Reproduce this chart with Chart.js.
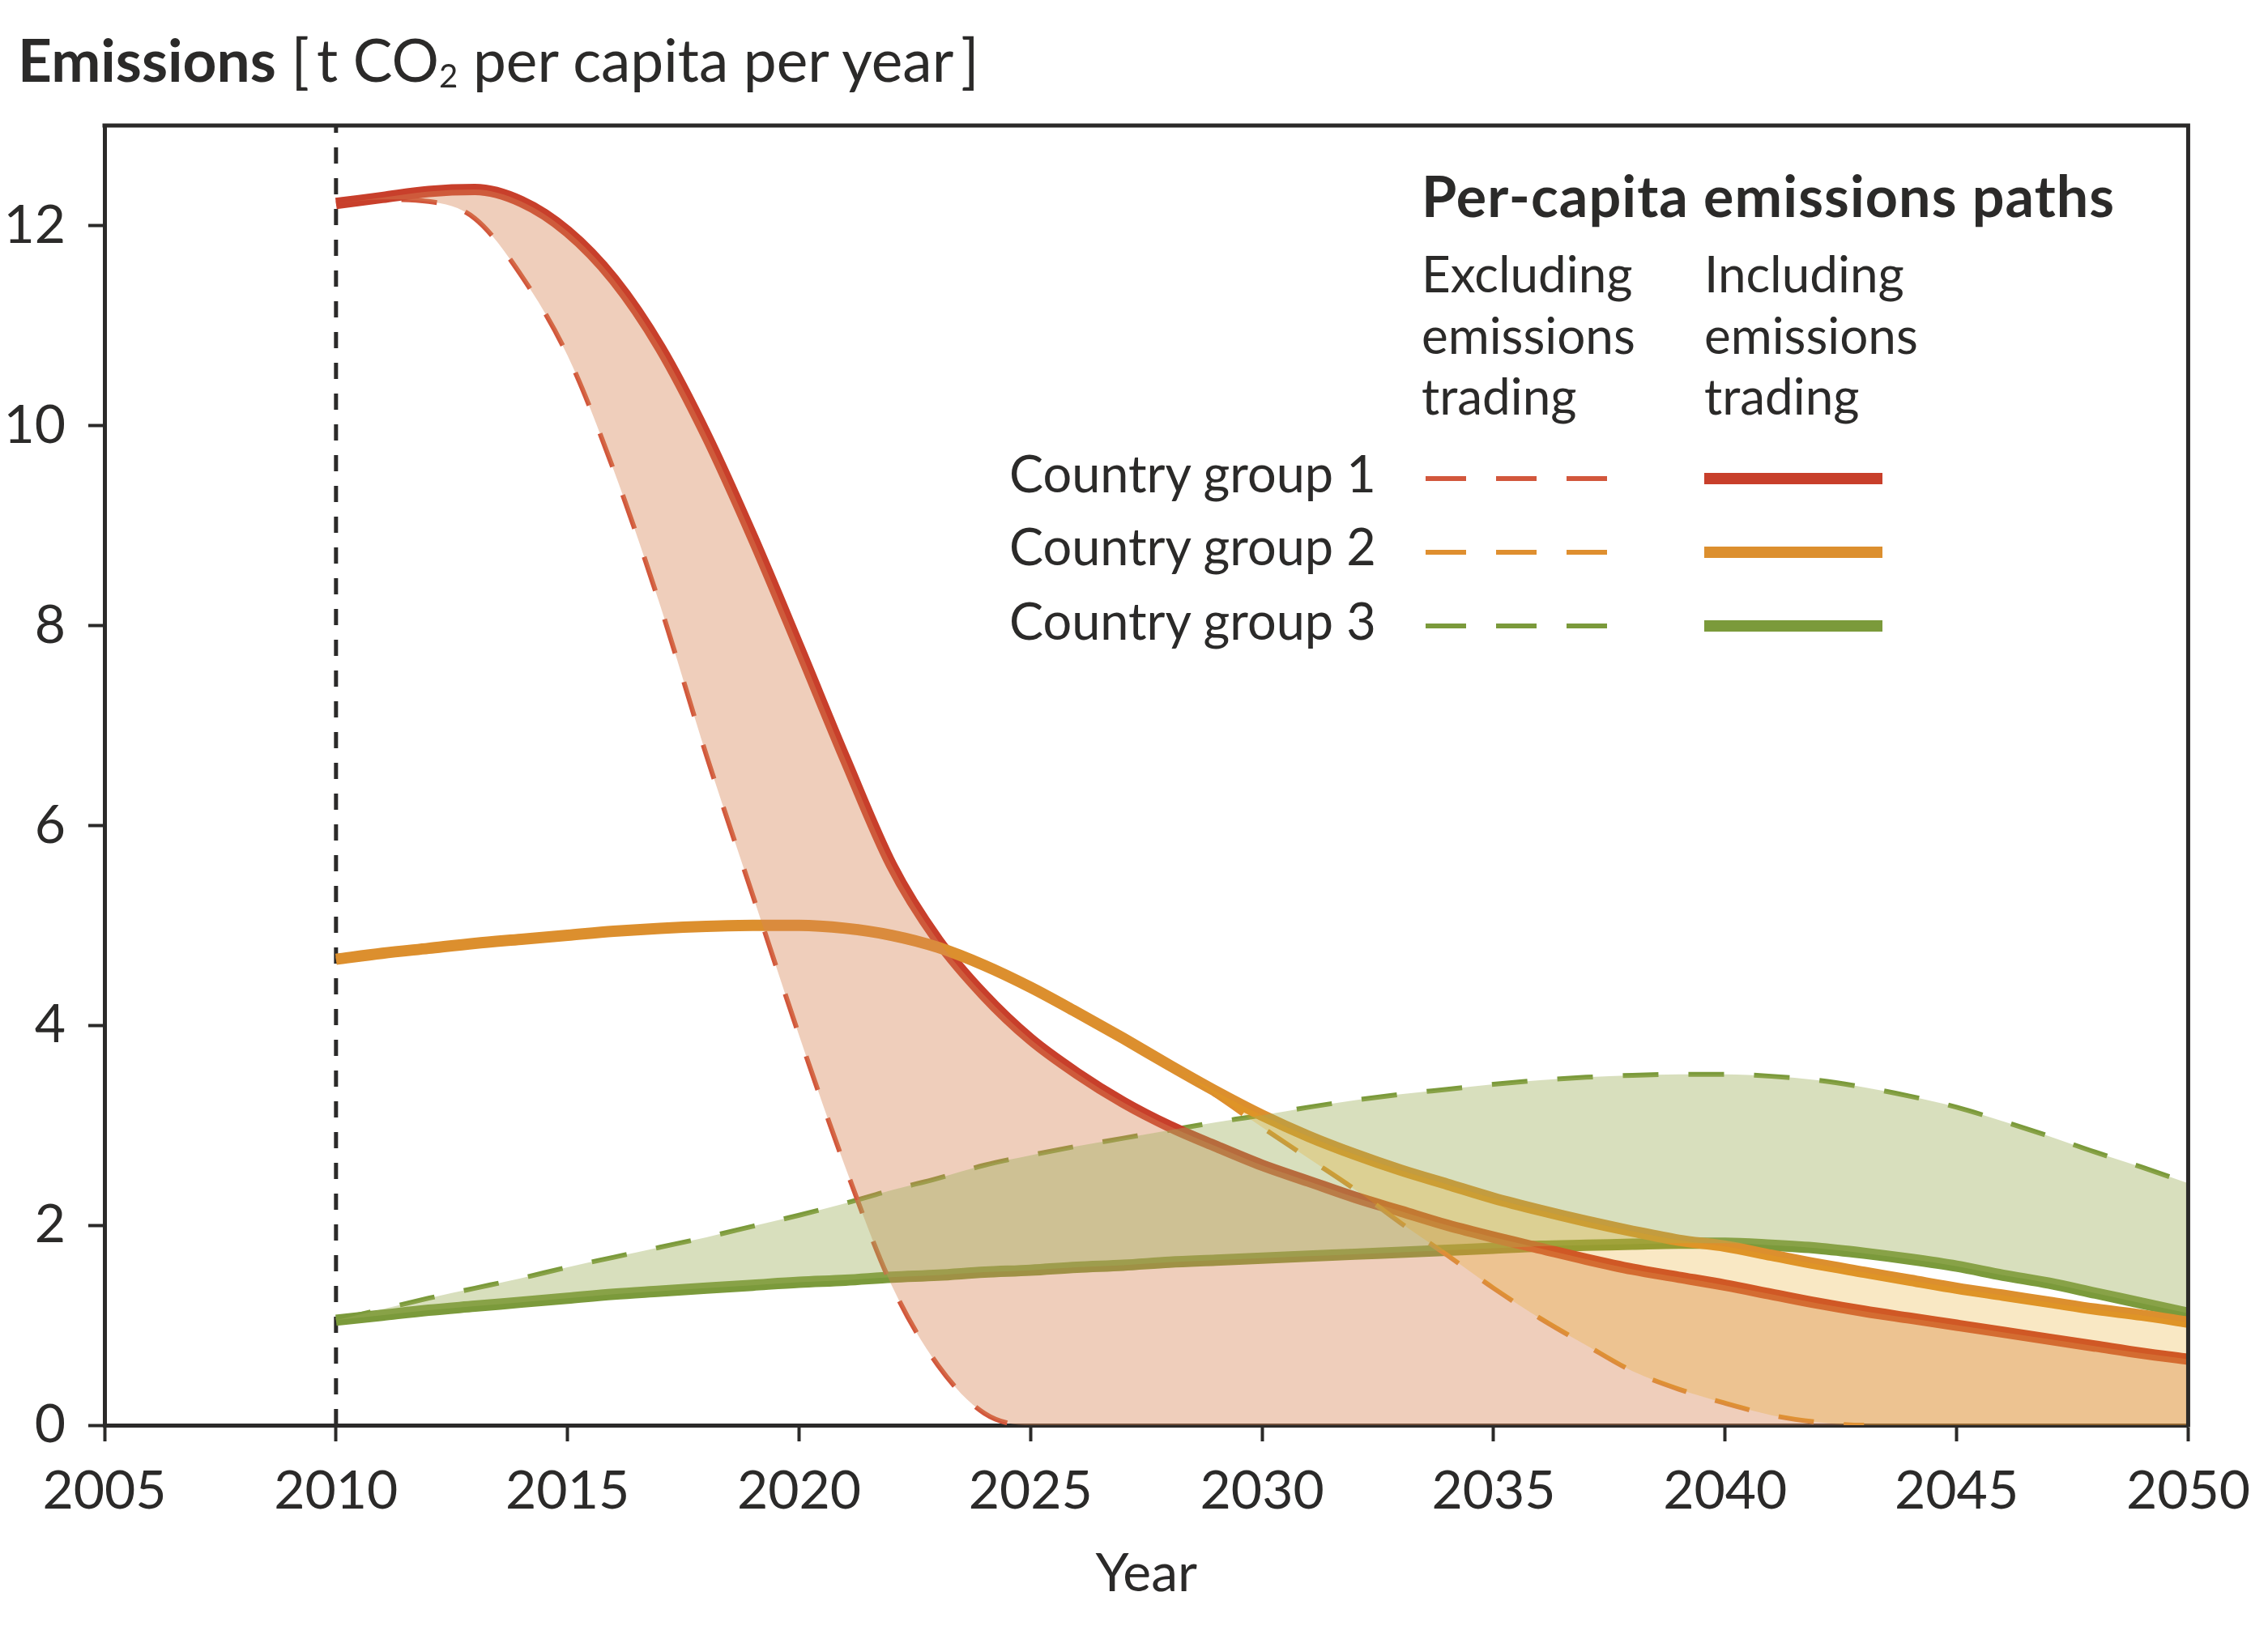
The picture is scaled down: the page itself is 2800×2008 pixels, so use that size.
<!DOCTYPE html>
<html>
<head>
<meta charset="utf-8">
<script src="https://cdn.jsdelivr.net/npm/chart.js@4.4.1/dist/chart.umd.min.js"></script>
<style>
  html, body { margin: 0; padding: 0; background: #fff; }
  body { width: 2800px; height: 2008px; position: relative; overflow: hidden; font-family: 'Lato', sans-serif; color: #2b2a29; }
  #wrap { position: absolute; left: 0; top: 0; width: 2800px; height: 2008px; }
  .txt { position: absolute; white-space: nowrap; line-height: 1.2; }
  .sub { font-size: 0.55em; position: relative; top: 0.18em; }
  #samples { position: absolute; left: 1740px; top: 560px; }
</style>
</head>
<body>
<div id="wrap"><canvas id="chart" width="2800" height="2008"></canvas></div>

<div class="txt" style="left:22px; top:30px; font-size:73px;"><b>Emissions</b> [&thinsp;t CO<span class="sub">2</span> per capita per year&thinsp;]</div>

<div class="txt" style="left:1755px; top:199px; font-size:70px; font-weight:bold; letter-spacing:1.1px;">Per-capita emissions paths</div>
<div class="txt" style="left:1755px; top:300px; font-size:62px; line-height:75.5px;">Excluding<br>emissions<br>trading</div>
<div class="txt" style="left:2104px; top:300px; font-size:62px; line-height:75.5px;">Including<br>emissions<br>trading</div>
<div class="txt" style="left:1246px; top:546px; font-size:63px;">Country group 1</div>
<div class="txt" style="left:1246px; top:636px; font-size:63px;">Country group 2</div>
<div class="txt" style="left:1246px; top:728px; font-size:63px;">Country group 3</div>

<svg id="samples" width="620" height="240">
  <line x1="20" y1="31" x2="244" y2="31" stroke="#d2573c" stroke-width="6" stroke-dasharray="50 37"/>
  <line x1="364" y1="31" x2="584" y2="31" stroke="#c83f2b" stroke-width="14"/>
  <line x1="20" y1="122" x2="244" y2="122" stroke="#df8f2f" stroke-width="6" stroke-dasharray="50 37"/>
  <line x1="364" y1="122" x2="584" y2="122" stroke="#dc8f2e" stroke-width="14"/>
  <line x1="20" y1="213" x2="244" y2="213" stroke="#7b9a3b" stroke-width="6" stroke-dasharray="50 37"/>
  <line x1="364" y1="213" x2="584" y2="213" stroke="#7b9a3b" stroke-width="14"/>
</svg>

<script>
// Jahre (2010 - 2050)
const years = [2010, 2011, 2012, 2013, 2014, 2015, 2016, 2017, 2018, 2019,
               2020, 2021, 2022, 2023, 2024, 2025, 2026, 2027, 2028, 2029,
               2030, 2031, 2032, 2033, 2034, 2035, 2036, 2037, 2038, 2039,
               2040, 2041, 2042, 2043, 2044, 2045, 2046, 2047, 2048, 2049, 2050];

// Country group 1 (rot)
const group1Including = [12.22, 12.28, 12.34, 12.36, 12.24, 11.94, 11.46, 10.78, 9.9, 8.88,
                         7.78, 6.66, 5.6, 4.85, 4.3, 3.86, 3.52, 3.23, 2.99, 2.79,
                         2.6, 2.44, 2.28, 2.14, 2.0, 1.88, 1.77, 1.66, 1.56, 1.48,
                         1.4, 1.31, 1.22, 1.14, 1.07, 1.0, 0.93, 0.86, 0.79, 0.72, 0.66];
const group1Excluding = [12.22, 12.26, 12.24, 12.07, 11.5, 10.7, 9.55, 8.2, 6.7, 5.3,
                         3.9, 2.58, 1.4, 0.6, 0.12, 0, 0, 0, 0, 0,
                         0, 0, 0, 0, 0, 0, 0, 0, 0, 0,
                         0, 0, 0, 0, 0, 0, 0, 0, 0, 0, 0];

// Country group 2 (orange)
const group2Including = [4.66, 4.72, 4.77, 4.82, 4.86, 4.9, 4.94, 4.97, 4.99, 5.0,
                         5.0, 4.97, 4.9, 4.78, 4.6, 4.38, 4.13, 3.87, 3.6, 3.34,
                         3.1, 2.89, 2.71, 2.55, 2.41, 2.27, 2.15, 2.04, 1.94, 1.85,
                         1.79, 1.7, 1.61, 1.53, 1.45, 1.37, 1.3, 1.23, 1.16, 1.1, 1.03];
const group2Excluding = [4.66, 4.72, 4.77, 4.82, 4.86, 4.9, 4.94, 4.97, 4.99, 5.0,
                         5.0, 4.97, 4.9, 4.78, 4.6, 4.38, 4.13, 3.87, 3.6, 3.3,
                         2.98, 2.67, 2.36, 2.02, 1.7, 1.37, 1.07, 0.8, 0.54, 0.36,
                         0.22, 0.1, 0.03, 0, 0, 0, 0, 0, 0, 0, 0];

// Country group 3 (gruen)
const group3Including = [1.05, 1.1, 1.15, 1.19, 1.23, 1.27, 1.31, 1.34, 1.37, 1.4,
                         1.43, 1.45, 1.48, 1.5, 1.53, 1.55, 1.58, 1.6, 1.63, 1.65,
                         1.67, 1.69, 1.71, 1.73, 1.75, 1.77, 1.79, 1.8, 1.81, 1.82,
                         1.82, 1.8, 1.77, 1.72, 1.66, 1.59, 1.5, 1.42, 1.32, 1.22, 1.12];
const group3Excluding = [1.05, 1.16, 1.27, 1.37, 1.47, 1.58, 1.68, 1.78, 1.88, 1.99,
                         2.1, 2.22, 2.35, 2.47, 2.6, 2.7, 2.79, 2.87, 2.95, 3.03,
                         3.1, 3.18, 3.25, 3.31, 3.36, 3.41, 3.45, 3.48, 3.5, 3.51,
                         3.51, 3.49, 3.45, 3.38, 3.29, 3.18, 3.04, 2.89, 2.73, 2.58, 2.42];

// Achsen
const xMin = 2005, xMax = 2050, xStep = 5;
const yMin = 0, yMax = 13, yStep = 2;
const baseYear = 2010;

const ink = '#2b2a29';
const red = '#c83f2b', redDash = '#d2573c';
const orange = '#dc8f2e', orangeDash = '#df8f2f';
const green = '#7b9a3b';

const pts = vals => years.map((yr, i) => ({ x: yr, y: vals[i] }));

function solid(vals, color, order) {
    return { data: pts(vals), borderColor: color, borderWidth: 14, pointRadius: 0,
             fill: false, cubicInterpolationMode: 'monotone', order: order };
}
// gestrichelt; Abschnitte, die auf der Nulllinie liegen, bleiben unsichtbar
function dashed(vals, color, order) {
    return { data: pts(vals), borderColor: color, borderWidth: 6, borderDash: [44, 37],
             pointRadius: 0, fill: false, cubicInterpolationMode: 'monotone', order: order,
             segment: { borderColor: ctx => (ctx.p0.parsed.y === 0 && ctx.p1.parsed.y === 0) ? 'transparent' : undefined } };
}
// Flaeche zwischen zwei Pfaden (ueber den Linien gezeichnet)
function band(vals, target, color, order) {
    return { data: pts(vals), borderColor: 'transparent', borderWidth: 0, pointRadius: 0,
             backgroundColor: color, fill: { target: target },
             cubicInterpolationMode: 'monotone', order: order };
}

// Rahmen oben und rechts
const framePlugin = {
    id: 'frame',
    afterDraw(chart) {
        const { ctx, chartArea: a } = chart;
        ctx.save();
        ctx.strokeStyle = ink;
        ctx.lineWidth = 5;
        ctx.beginPath();
        ctx.moveTo(a.left - 2.5, a.top);
        ctx.lineTo(a.right, a.top);
        ctx.lineTo(a.right, a.bottom + 2.5);
        ctx.stroke();
        ctx.restore();
    }
};

Chart.defaults.font.family = "'Lato', sans-serif";
Chart.defaults.color = ink;

new Chart(document.getElementById('chart').getContext('2d'), {
    type: 'line',
    data: {
        datasets: [
            solid(group1Including, red, 13),            // 0
            dashed(group1Excluding, redDash, 14),       // 1
            solid(group2Including, orange, 11),         // 2
            dashed(group2Excluding, orangeDash, 12),    // 3
            solid(group3Including, green, 15),          // 4
            dashed(group3Excluding, green, 16),         // 5
            { data: [{ x: baseYear, y: yMin }, { x: baseYear, y: yMax }], borderColor: ink,
              borderWidth: 5, borderDash: [20, 18], pointRadius: 0, tension: 0, fill: false, order: 20 },
            band(group1Excluding, 0, 'rgba(215,132,85,0.4)', 3),
            band(group3Excluding, 4, 'rgba(157,174,89,0.4)', 2),
            band(group2Excluding, 2, 'rgba(231,164,19,0.25)', 1)
        ]
    },
    options: {
        responsive: false,
        animation: false,
        devicePixelRatio: 1,
        events: [],
        layout: { padding: { top: 155, right: 96, left: 0, bottom: 0 } },
        plugins: { legend: { display: false }, tooltip: { enabled: false } },
        scales: {
            x: {
                type: 'linear', min: xMin, max: xMax,
                afterFit: s => { s.height = 248; },
                border: { display: true, color: ink, width: 5 },
                grid: { drawOnChartArea: false, drawTicks: true, tickLength: 20, tickWidth: 4, tickColor: ink },
                ticks: { stepSize: xStep, padding: 22, font: { size: 66 }, color: ink, callback: v => String(v) },
                title: { display: true, text: 'Year', font: { size: 66 }, color: ink, padding: { top: 0, bottom: 25 } }
            },
            y: {
                type: 'linear', min: yMin, max: yMax,
                afterFit: s => { s.width = 129; },
                border: { display: true, color: ink, width: 5 },
                grid: { drawOnChartArea: false, drawTicks: true, tickLength: 20, tickWidth: 4, tickColor: ink },
                ticks: { stepSize: yStep, includeBounds: false, padding: 28, font: { size: 66 }, color: ink, callback: v => String(v) }
            }
        }
    },
    plugins: [framePlugin]
});
</script>
</body>
</html>
